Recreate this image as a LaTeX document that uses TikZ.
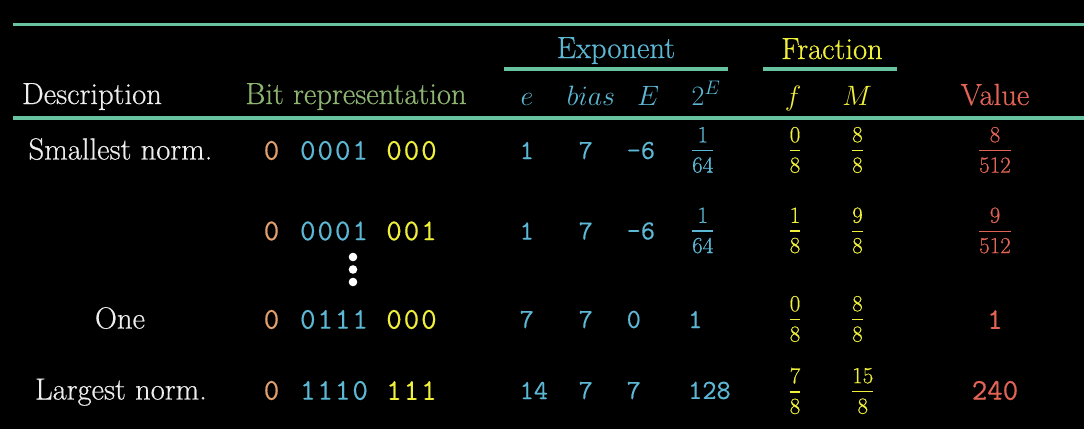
\RequirePackage{fix-cm}
\documentclass[tikz,border=0pt]{standalone}
\usepackage{fontspec}
\setmainfont{Latin Modern Roman}[FakeBold=0.5]
\setmonofont{Latin Modern Mono}[FakeBold=0.5]
\definecolor{cteal}{RGB}{104,196,160}
\definecolor{cblue}{RGB}{92,184,212}
\definecolor{cyel}{RGB}{240,240,60}
\definecolor{corange}{RGB}{225,160,110}
\definecolor{cred}{RGB}{225,100,85}
\definecolor{cgreen}{RGB}{141,180,113}
\definecolor{cwhite}{RGB}{238,238,238}
\newcommand\fr[2]{\vbox{\halign{\hfil##\hfil\cr #1\cr\noalign{\kern7.5pt\hrule height1.4pt\kern6pt}#2\cr}}}
\newcommand\bk{\kern2pt}
\tikzset{
  hdr/.style={font=\fontsize{30.6}{33}\selectfont, inner sep=0pt, anchor=base},
  mhdr/.style={font=\fontsize{28}{30}\selectfont, inner sep=0pt, anchor=base},
  desc/.style={hdr, text=cwhite},
  bits/.style={font=\fontsize{30}{30}\selectfont\ttfamily, inner sep=0pt},
  num/.style={font=\fontsize{27.5}{30}\selectfont\ttfamily, inner sep=0pt, text=cblue, anchor=west},
  frc/.style={font=\fontsize{23}{23}\selectfont, inner sep=0pt},
  tabrule/.style={draw=cteal, line width=3.5pt},
  dot/.style={circle, fill=white, inner sep=0pt, minimum size=8.6pt},
}
\begin{document}
\begin{tikzpicture}[x=1pt,y=-1pt]
\useasboundingbox (0,0) rectangle (1084,429);
\fill[black] (0,0) rectangle (1084,429);
% rules
\coordinate (t1) at (13,24.5); \coordinate (t2) at (1084,24.5);
\coordinate (h1) at (13,118); \coordinate (h2) at (1084,118);
\coordinate (x1) at (504,69); \coordinate (x2) at (728,69);
\coordinate (f1) at (763,69); \coordinate (f2) at (897,69);
\draw[tabrule] (t1) -- (t2);
\draw[tabrule] (h1) -- (h2);
\draw[tabrule] (x1) -- (x2);
\draw[tabrule] (f1) -- (f2);
% group headers
\node[hdr, text=cblue] (expo) at (616,58) {Exponent};
\node[hdr, text=cyel] (frac) at (832,59) {Fraction};
% header row
\node[desc] (hdesc) at (92,104) {Description};
\node[hdr, text=cgreen] (hbits) at (356,104) {Bit representation};
\node[mhdr, text=cblue] (he) at (527,105) {$e$};
\node[mhdr, text=cblue] (hbias) at (591,105) {$bias$};
\node[mhdr, text=cblue] (hE) at (648,105) {$E$};
\node[mhdr, text=cblue] (h2E) at (706,105) {$2^E$};
\node[mhdr, text=cyel] (hf) at (793,105) {$f$};
\node[mhdr, text=cyel] (hM) at (857,105) {$M$};
\node[hdr, text=cred] (hval) at (995,105) {Value};
% row 1
\node[desc] (d1) at (120.5,159.5) {Smallest norm.};
\node[bits, text=corange] (s1) at (271.5,150.5) {0};
\node[bits, text=cblue] (b1) at (334,150.5) {0\bk0\bk0\bk1};
\node[bits, text=cyel] (m1) at (411.5,150.5) {0\bk0\bk0};
\node[num] (e1) at (519.5,150.5) {1};
\node[num] (bi1) at (578.5,150.5) {7};
\node[num] (E1) at (626.5,150.5) {-6};
\node[frc, text=cblue, anchor=west] (p1) at (692,150) {\fr{1}{64}};
\node[frc, text=cyel] (ff1) at (795,150) {\fr{0}{8}};
\node[frc, text=cyel, anchor=west] (M1) at (852,150) {\fr{8}{8}};
\node[frc, text=cred] (v1) at (995,150) {\fr{8}{512}};
% row 2
\node[bits, text=corange] (s2) at (271.5,231) {0};
\node[bits, text=cblue] (b2) at (334,231) {0\bk0\bk0\bk1};
\node[bits, text=cyel] (m2) at (411.5,231) {0\bk0\bk1};
\node[num] (e2) at (519.5,231) {1};
\node[num] (bi2) at (578.5,231) {7};
\node[num] (E2) at (626.5,231) {-6};
\node[frc, text=cblue, anchor=west] (p2) at (692,230.5) {\fr{1}{64}};
\node[frc, text=cyel] (ff2) at (795,230.5) {\fr{1}{8}};
\node[frc, text=cyel, anchor=west] (M2) at (852,230.5) {\fr{9}{8}};
\node[frc, text=cred] (v2) at (995,230.5) {\fr{9}{512}};
% dots
\node[dot] (dt1) at (353,257) {};
\node[dot] (dt2) at (353,269.5) {};
\node[dot] (dt3) at (353,282) {};
% row 3
\node[desc] (d3) at (120,328.5) {One};
\node[bits, text=corange] (s3) at (271.5,319.5) {0};
\node[bits, text=cblue] (b3) at (334,319.5) {0\bk1\bk1\bk1};
\node[bits, text=cyel] (m3) at (411.5,319.5) {0\bk0\bk0};
\node[num] (e3) at (519.5,319.5) {7};
\node[num] (bi3) at (578.5,319.5) {7};
\node[num] (E3) at (626.5,319.5) {0};
\node[num] (p3) at (688,319.5) {1};
\node[frc, text=cyel] (ff3) at (795,319) {\fr{0}{8}};
\node[frc, text=cyel, anchor=west] (M3) at (852,319) {\fr{8}{8}};
\node[bits, text=cred] (v3) at (995,319.5) {1};
% row 4
\node[desc] (d4) at (121,399.5) {Largest norm.};
\node[bits, text=corange] (s4) at (271.5,390.5) {0};
\node[bits, text=cblue] (b4) at (334,390.5) {1\bk1\bk1\bk0};
\node[bits, text=cyel] (m4) at (411.5,390.5) {1\bk1\bk1};
\node[num] (e4) at (519.5,390.5) {14};
\node[num] (bi4) at (578.5,390.5) {7};
\node[num] (E4) at (626.5,390.5) {7};
\node[num] (p4) at (688,390.5) {128};
\node[frc, text=cyel] (ff4) at (795,391) {\fr{7}{8}};
\node[frc, text=cyel, anchor=west] (M4) at (852,391) {\fr{15}{8}};
\node[bits, text=cred] (v4) at (995,390.5) {240};
\end{tikzpicture}
\end{document}
